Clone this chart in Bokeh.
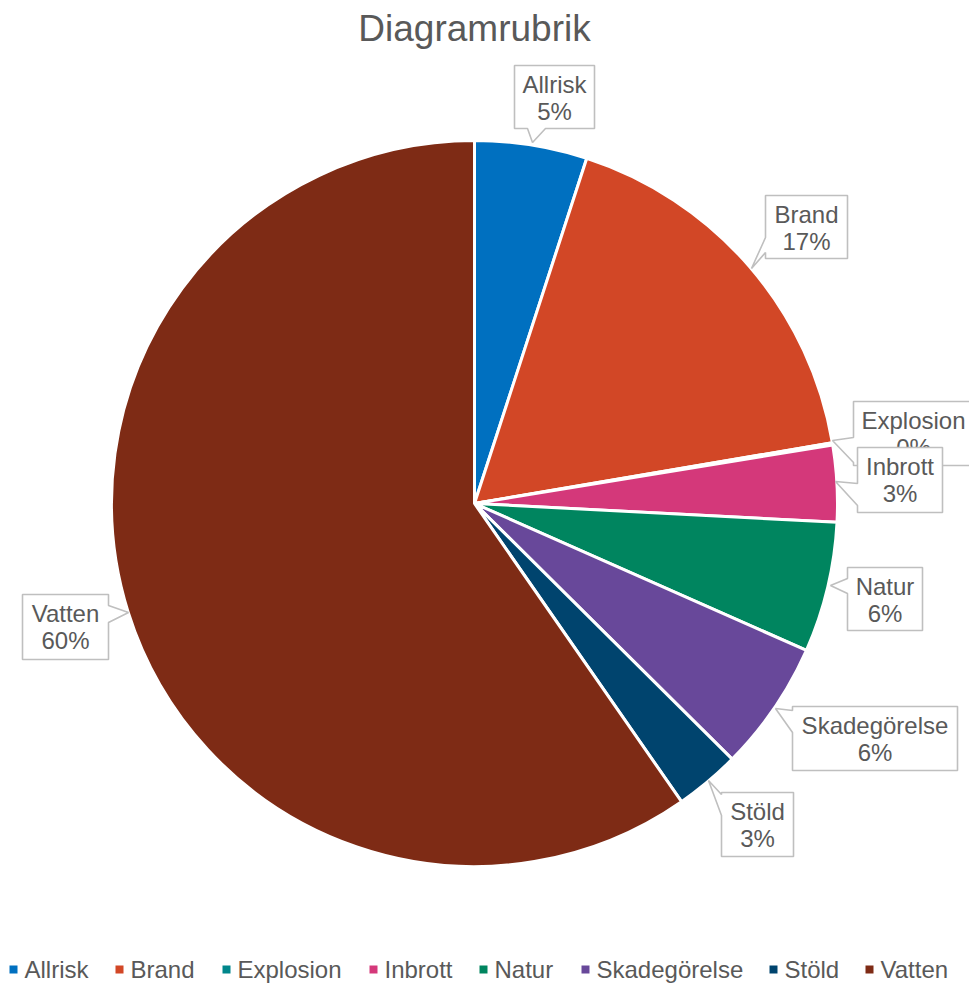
import numpy as np
from bokeh.plotting import figure
from bokeh.models import Range1d, ColumnDataSource
from bokeh.core.properties import value
from bokeh.embed import file_html
from bokeh.resources import INLINE

# ---- data ----
categories = ["Allrisk", "Brand", "Explosion", "Inbrott", "Natur", "Skadegörelse", "Stöld", "Vatten"]
values = [5.0, 17.3, 0.1, 3.4, 5.8, 5.8, 2.9, 59.6]
colors = ["#0070C0", "#D24726", "#00868B", "#D4387A", "#00855F", "#68489A", "#00446E", "#7E2B15"]
title_text = "Diagramrubrik"

# ---- layout (screen pixel coordinates, y downward) ----
W, H = 969, 985
FONT = "Liberation Sans"
TXT = "#595959"
BORDER = "#BFBFBF"
LBL = 24          # label font px
SHIFT = 0.35      # baseline compensation (em)

def Y(ys):
    return H - ys

cx, cy, R = 474, 503, 363

# label boxes: (x0, y0, x1, y1, side, b1, b2, tipx, tipy)
boxes = {
    "Allrisk":      (514, 65, 594, 128, "bottom", 527, 545, 532, 142),
    "Brand":        (765, 195, 847, 258, "left", 237, 252, 751, 268),
    "Explosion":    (853, 401, 990, 465, "left", 437, 462, 832, 440),
    "Inbrott":      (857, 447, 942, 512, "left", 483, 505, 835, 481),
    "Natur":        (847, 567, 922, 630, "left", 578, 593, 830, 585),
    "Skadegörelse": (792, 706, 957, 770, "left", 710, 732, 775, 708),
    "Stöld":        (721, 792, 793, 856, "left", 794, 815, 708, 780),
    "Vatten":       (22, 594, 108, 659, "right", 605, 622, 128, 612),
}

legend_sq_x = [9, 115, 222, 369, 479, 581, 769, 865]

p = figure(width=W, height=H, x_range=Range1d(0, W), y_range=Range1d(0, H),
           min_border=0, outline_line_color=None, toolbar_location=None,
           output_backend="svg", background_fill_color="white", border_fill_color="white")
p.axis.visible = False
p.xgrid.visible = False
p.ygrid.visible = False

# ---- pie ----
vals = np.array(values, dtype=float)
frac = vals / vals.sum()
cum = np.concatenate([[0.0], np.cumsum(frac)])
start = np.pi / 2 - cum[:-1] * 2 * np.pi
end = np.pi / 2 - cum[1:] * 2 * np.pi
src = ColumnDataSource(dict(start=start, end=end, color=colors, cat=categories))
p.wedge(x=cx, y=Y(cy), radius=R, start_angle="start", end_angle="end", direction="clock",
        fill_color="color", line_color="white", line_width=3, source=src)

def txt(x, y_base, s, size, align="center"):
    p.text(x=[x], y=[Y(y_base - SHIFT * size)], text=[s], text_font=value(FONT),
           text_font_size=f"{size}px", text_color=TXT, text_align=align,
           text_baseline="alphabetic")

# ---- title ----
txt(cx, 41, title_text, 37)

# ---- callout labels ----
def callout(x0, y0, x1, y1, side, b1, b2, tx, ty):
    if side == "bottom":
        pts = [(x0, y0), (x1, y0), (x1, y1), (b2, y1), (tx, ty), (b1, y1), (x0, y1)]
    elif side == "left":
        pts = [(x0, y0), (x1, y0), (x1, y1), (x0, y1), (x0, b2), (tx, ty), (x0, b1)]
    else:  # right
        pts = [(x0, y0), (x1, y0), (x1, b1), (tx, ty), (x1, b2), (x1, y1), (x0, y1)]
    xs = [a for a, b in pts]
    ys = [Y(b) for a, b in pts]
    return xs, ys

for cat, v in zip(categories, values):
    x0, y0, x1, y1, side, b1, b2, tx, ty = boxes[cat]
    xs, ys = callout(x0, y0, x1, y1, side, b1, b2, tx, ty)
    p.patch(xs, ys, fill_color="white", line_color=BORDER, line_width=1.6)
    mx = (x0 + x1) / 2
    if cat == "Explosion":
        mx = 913
    pct = f"{round(v / vals.sum() * 100)}%"
    txt(mx, y0 + 27, cat, LBL)
    txt(mx, y0 + 54, pct, LBL)

# ---- legend ----
for sx, cat, col in zip(legend_sq_x, categories, colors):
    p.rect(x=[sx + 4], y=[Y(969)], width=8, height=8, fill_color=col, line_color=None)
    txt(sx + 15, 977, cat, LBL, align="left")

open("out.html", "w").write(file_html(p, INLINE))
